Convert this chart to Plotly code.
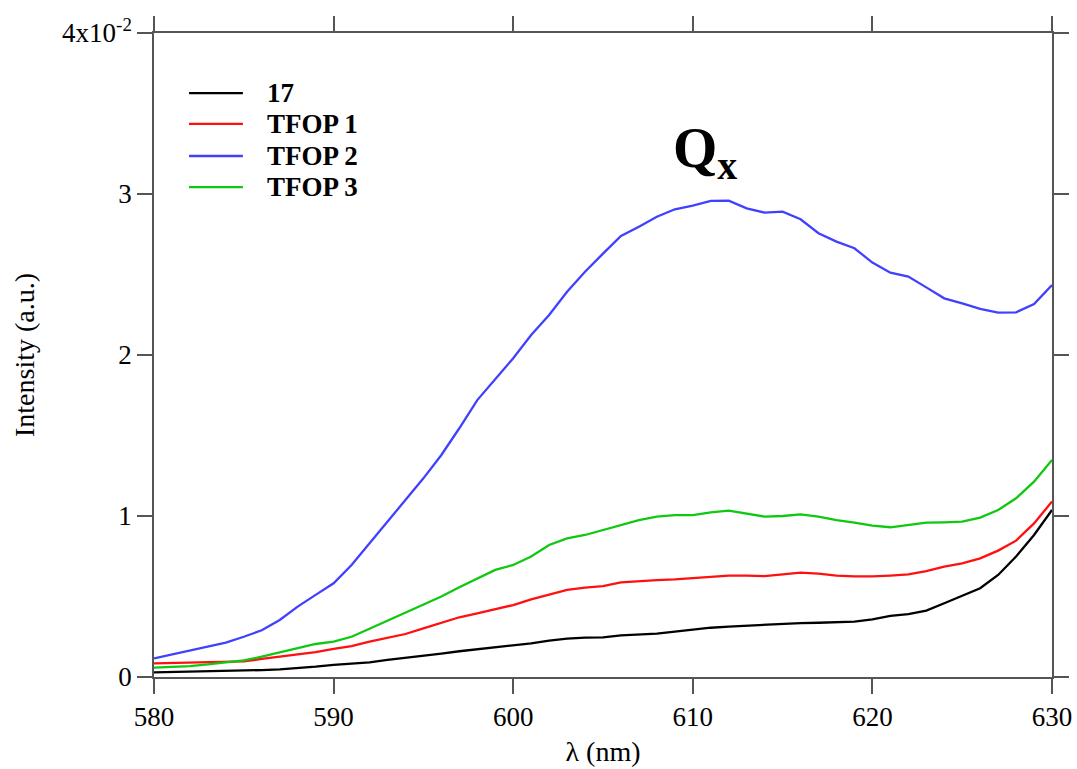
import plotly.graph_objects as go

# Wavelength grid (nm), one sample per nm
wavelength = list(range(580, 631))

# Intensities in units of 1e-2 (a.u.)
int_17 = [0.029, 0.031, 0.031, 0.033, 0.035, 0.039, 0.043, 0.047, 0.054, 0.064,
          0.075, 0.081, 0.091, 0.106, 0.118, 0.133, 0.145, 0.160, 0.172, 0.182,
          0.195, 0.209, 0.226, 0.238, 0.244, 0.246, 0.258, 0.264, 0.269, 0.282,
          0.296, 0.306, 0.313, 0.319, 0.327, 0.333, 0.335, 0.337, 0.342, 0.344,
          0.358, 0.379, 0.391, 0.412, 0.458, 0.503, 0.551, 0.634, 0.748, 0.882,
          1.037]
int_tfop1 = [0.085, 0.087, 0.089, 0.091, 0.093, 0.097, 0.112, 0.126, 0.143, 0.155,
             0.174, 0.192, 0.219, 0.242, 0.267, 0.302, 0.337, 0.371, 0.395, 0.420,
             0.447, 0.482, 0.512, 0.541, 0.555, 0.565, 0.588, 0.596, 0.602, 0.606,
             0.613, 0.623, 0.630, 0.630, 0.627, 0.637, 0.648, 0.642, 0.630, 0.625,
             0.625, 0.630, 0.637, 0.658, 0.685, 0.706, 0.737, 0.785, 0.847, 0.954,
             1.090]
int_tfop2 = [0.116, 0.140, 0.165, 0.188, 0.213, 0.250, 0.290, 0.354, 0.437, 0.510,
             0.582, 0.696, 0.830, 0.965, 1.100, 1.234, 1.379, 1.545, 1.720, 1.850,
             1.980, 2.124, 2.248, 2.393, 2.517, 2.630, 2.739, 2.797, 2.859, 2.905,
             2.928, 2.957, 2.959, 2.911, 2.884, 2.890, 2.843, 2.756, 2.704, 2.663,
             2.574, 2.511, 2.487, 2.420, 2.352, 2.321, 2.286, 2.263, 2.265, 2.317,
             2.435]
int_tfop3 = [0.058, 0.062, 0.068, 0.078, 0.089, 0.103, 0.126, 0.151, 0.180, 0.205,
             0.220, 0.250, 0.300, 0.350, 0.395, 0.447, 0.500, 0.557, 0.613, 0.665,
             0.696, 0.748, 0.820, 0.861, 0.882, 0.913, 0.944, 0.975, 0.996, 1.006,
             1.006, 1.023, 1.033, 1.016, 0.996, 1.000, 1.010, 0.996, 0.975, 0.959,
             0.940, 0.930, 0.944, 0.959, 0.961, 0.965, 0.990, 1.037, 1.110, 1.213,
             1.348]

series_names = ["17", "TFOP 1", "TFOP 2", "TFOP 3"]
series_values = [int_17, int_tfop1, int_tfop2, int_tfop3]
series_colors = ["#000000", "#ff1010", "#4040ff", "#10c810"]

y_tickvals = [0, 1, 2, 3, 4]
y_ticktext = ["0", "1", "2", "3", "4x10<sup>-2</sup>"]
x_tickvals = [580, 590, 600, 610, 620, 630]

FONT = "Liberation Serif"
AXIS_GRAY = "#555555"

fig = go.Figure()
for name, vals, col in zip(series_names, series_values, series_colors):
    fig.add_trace(go.Scatter(x=wavelength, y=vals, mode="lines", name=name,
                             line=dict(color=col, width=2.3), showlegend=False))

# Legend drawn as short line samples with bold labels
legend_y = [3.627, 3.435, 3.236, 3.043]
for name, col, ly in zip(series_names, series_colors, legend_y):
    fig.add_shape(type="line", xref="x", yref="y", x0=581.95, x1=584.95, y0=ly, y1=ly,
                  line=dict(color=col, width=2.3))
    fig.add_annotation(x=586.2, y=ly, xref="x", yref="y", text="<b>" + name + "</b>",
                       showarrow=False, xanchor="left", yanchor="middle",
                       font=dict(family=FONT, size=27, color="black"))

# Band label
fig.add_annotation(x=610.7, y=3.26, xref="x", yref="y", text="<b>Q<sub>x</sub></b>",
                   showarrow=False, xanchor="center", yanchor="middle",
                   font=dict(family=FONT, size=57, color="black"))

axis_common = dict(showline=True, linecolor=AXIS_GRAY, linewidth=1.5, mirror="ticks",
                   ticks="outside", ticklen=15, tickwidth=1.5, tickcolor=AXIS_GRAY,
                   showgrid=False, zeroline=False, automargin=False,
                   tickfont=dict(family=FONT, size=27, color="black"))

fig.update_layout(
    width=1077, height=769,
    margin=dict(l=154, r=25, t=33, b=92),
    paper_bgcolor="white", plot_bgcolor="white",
    xaxis=dict(range=[580, 630], tickvals=x_tickvals,
               title=dict(text="λ (nm)", font=dict(family=FONT, size=28, color="black"),
                          standoff=10),
               **axis_common),
    yaxis=dict(range=[0, 4], tickvals=y_tickvals, ticktext=y_ticktext,
               title=dict(text="Intensity (a.u.)", font=dict(family=FONT, size=28, color="black"),
                          standoff=19),
               **axis_common),
)

fig.write_html("out.html")
